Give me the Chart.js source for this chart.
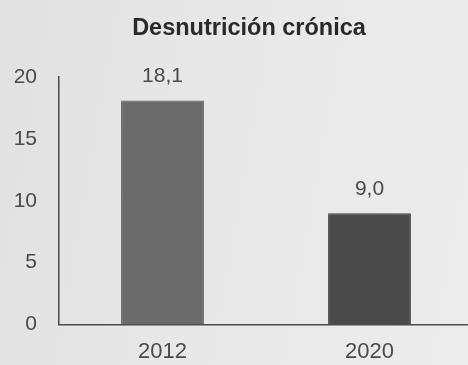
<!DOCTYPE html>
<html>
<head>
<meta charset="utf-8">
<script src="https://cdn.jsdelivr.net/npm/chart.js@4"></script>
<style>
  html, body { margin: 0; padding: 0; }
  body {
    width: 468px; height: 365px; overflow: hidden;
    background: linear-gradient(100deg, #e1e1e1 0%, #e8e8e8 45%, #ececec 100%);
  }
  /* the plot runs a few px past the right edge, like the scanned original */
  #wrap { position: relative; width: 473px; height: 365px; }
</style>
</head>
<body>
<div id="wrap"><canvas id="chart"></canvas></div>
<script>
// chart data
const chartTitle = 'Desnutrición crónica';
const categories = ['2012', '2020'];
const values = [18.1, 9.0];
const yTicks = [0, 5, 10, 15, 20];
const barColors = ['#6b6b6b', '#4a4a4a'];
const barEdges = ['#575757', '#3b3b3b'];

const FONT = "'Liberation Sans', Arial, sans-serif";

// value labels above bars, using the bar elements from the library
const valueLabels = {
    id: 'valueLabels',
    afterDatasetsDraw(chart) {
        const ctx = chart.ctx;
        const meta = chart.getDatasetMeta(0);
        ctx.save();
        ctx.font = '21px ' + FONT;
        ctx.fillStyle = '#4a4a4a';
        ctx.textAlign = 'center';
        ctx.textBaseline = 'middle';
        meta.data.forEach((bar, i) => {
            let txt = values[i].toFixed(1).replace('.', ',');
            ctx.fillText(txt, bar.x, bar.y - 24);
        });
        ctx.restore();
    }
};

// title text
const titleText = {
    id: 'titleText',
    afterDraw(chart) {
        const ctx = chart.ctx;
        ctx.save();
        ctx.font = 'bold 23.5px ' + FONT;
        ctx.fillStyle = '#2a2a2a';
        ctx.textAlign = 'center';
        ctx.textBaseline = 'middle';
        ctx.fillText(chartTitle, 249, 29);
        ctx.restore();
    }
};

const ctx = document.getElementById('chart').getContext('2d');
new Chart(ctx, {
    type: 'bar',
    data: {
        labels: categories,
        datasets: [{
            data: values,
            backgroundColor: barColors,
            borderColor: barEdges,
            borderWidth: 1,
            barPercentage: 0.4,
            categoryPercentage: 1.0
        }]
    },
    options: {
        responsive: true,
        maintainAspectRatio: false,
        animation: false,
        layout: { padding: { top: 77, right: 0, bottom: -14, left: 0 } },
        plugins: {
            legend: { display: false },
            tooltip: { enabled: false }
        },
        scales: {
            x: {
                grid: { display: false, drawTicks: false },
                border: { display: true, color: '#4a4a4a', width: 1.5 },
                ticks: {
                    color: '#4a4a4a',
                    font: { family: FONT, size: 22 },
                    padding: 14
                }
            },
            y: {
                min: 0,
                max: 20,
                afterFit: (scale) => { scale.width = 59; },
                afterBuildTicks: (scale) => { scale.ticks = yTicks.map(v => ({ value: v })); },
                grid: { display: false, drawTicks: false },
                border: { display: true, color: '#4a4a4a', width: 1.5 },
                ticks: {
                    color: '#4a4a4a',
                    font: { family: FONT, size: 21 },
                    padding: 22
                }
            }
        }
    },
    plugins: [valueLabels, titleText]
});
</script>
</body>
</html>
